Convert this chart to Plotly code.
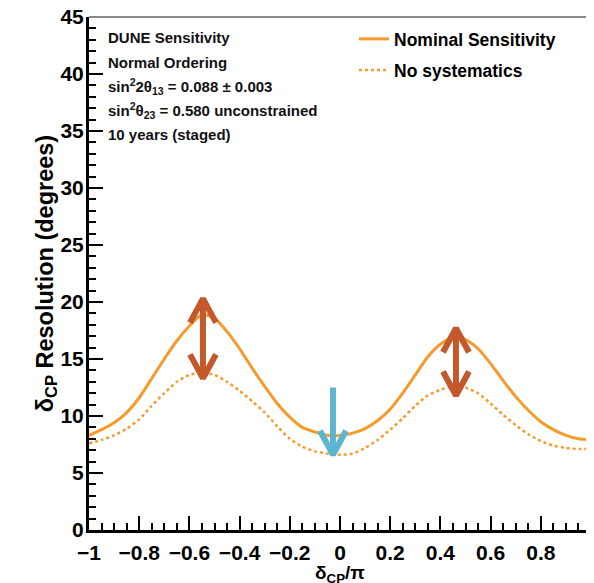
import plotly.graph_objects as go

# ---- data ----
delta_cp = [-1.00, -0.95, -0.90, -0.85, -0.80, -0.75, -0.70, -0.65, -0.60, -0.55,
            -0.50, -0.45, -0.40, -0.35, -0.30, -0.25, -0.20, -0.15, -0.10, -0.05,
            0.00, 0.05, 0.10, 0.15, 0.20, 0.25, 0.30, 0.35, 0.40, 0.45,
            0.50, 0.55, 0.60, 0.65, 0.70, 0.75, 0.80, 0.85, 0.90, 0.95, 1.00]
nominal = [8.3, 8.8, 9.4, 10.3, 11.6, 13.3, 15.0, 16.6, 17.9, 18.9,
           18.6, 17.4, 15.9, 14.2, 12.6, 11.1, 9.9, 9.0, 8.6, 8.3,
           8.3, 8.5, 8.9, 9.6, 10.6, 12.0, 13.6, 15.2, 16.3, 16.9,
           16.7, 15.9, 14.6, 13.1, 11.7, 10.5, 9.5, 8.8, 8.3, 8.0, 7.9]
no_syst = [7.6, 7.9, 8.3, 8.9, 9.7, 10.9, 12.0, 13.0, 13.6, 13.8,
           13.6, 13.0, 12.2, 11.3, 10.3, 9.1, 8.0, 7.3, 6.9, 6.7,
           6.6, 6.7, 7.2, 7.9, 8.8, 9.8, 10.9, 11.8, 12.3, 12.6,
           12.5, 12.0, 11.1, 10.1, 9.2, 8.4, 7.8, 7.4, 7.2, 7.1, 7.1]

# arrows (x position, top value, bottom value)
brown_x = [-0.546, 0.462]
brown_top = [20.3, 17.7]
brown_bottom = [13.3, 11.8]
blue_x = [-0.028]
blue_top = [12.5]
blue_bottom = [6.6]

x_ticks = [-1, -0.8, -0.6, -0.4, -0.2, 0, 0.2, 0.4, 0.6, 0.8, 1]
x_tick_labels = ["\u22121", "\u22120.8", "\u22120.6", "\u22120.4", "\u22120.2", "0",
                 "0.2", "0.4", "0.6", "0.8", "1"]
y_ticks = [0, 5, 10, 15, 20, 25, 30, 35, 40, 45]

info_lines = ["DUNE Sensitivity",
              "Normal Ordering",
              "sin<sup>2</sup>2\u03b8<sub>13</sub> = 0.088 \u00b1 0.003",
              "sin<sup>2</sup>\u03b8<sub>23</sub> = 0.580 unconstrained",
              "10 years (staged)"]

# ---- style ----
ORANGE = "#f79a2c"
BROWN = "#c3582b"
BLUE = "#5cb5d1"
FONT = "Liberation Sans"
OFF = 8                          # page body margin offset
W, H = 594 - OFF, 583 - OFF
ML, MR, MT, MB = 89 - OFF, 3, 17 - OFF, 53
PW, PH = W - ML - MR, H - MT - MB
px_x = PW / 2.0                  # pixels per x unit
px_y = PH / 45.0                 # pixels per y unit
HW = 13 / px_x                   # arrow head half width (data units)
HD = 24 / px_y                   # arrow head depth (data units)

fig = go.Figure()
fig.add_trace(go.Scatter(x=delta_cp, y=nominal, mode="lines", name="Nominal Sensitivity",
                         line=dict(color=ORANGE, width=3, shape="spline", smoothing=0.6),
                         legend="legend"))
fig.add_trace(go.Scatter(x=delta_cp, y=no_syst, mode="lines", name="No systematics",
                         line=dict(color=ORANGE, width=2.5, dash="dot", shape="spline",
                                   smoothing=0.6),
                         legend="legend2"))


def arrow_path(xc, top, bottom, up, down):
    xs, ys = [xc, xc], [top, bottom]
    if up:
        xs += [None, xc - HW, xc, xc + HW]
        ys += [None, top - HD, top, top - HD]
    if down:
        xs += [None, xc - HW, xc, xc + HW]
        ys += [None, bottom + HD, bottom, bottom + HD]
    return xs, ys


for xc, t, b in zip(brown_x, brown_top, brown_bottom):
    xs, ys = arrow_path(xc, t, b, True, True)
    fig.add_trace(go.Scatter(x=xs, y=ys, mode="lines", showlegend=False, hoverinfo="skip",
                             line=dict(color=BROWN, width=6)))
for xc, t, b in zip(blue_x, blue_top, blue_bottom):
    xs, ys = arrow_path(xc, t, b, False, True)
    fig.add_trace(go.Scatter(x=xs, y=ys, mode="lines", showlegend=False, hoverinfo="skip",
                             line=dict(color=BLUE, width=6)))


def py(page_y):
    return (H - MB - (page_y - OFF)) / PH


def pxp(page_x):
    return (page_x - OFF - ML) / PW


rows_y = [37, 62, 86, 110, 134]
annotations = []
for txt, ry in zip(info_lines, rows_y):
    annotations.append(dict(text=txt, xref="paper", yref="paper",
                            x=pxp(106), y=py(ry),
                            xanchor="left", yanchor="middle", showarrow=False,
                            font=dict(family=FONT, size=15, color="#111", weight="bold")))
# x-axis title
annotations.append(dict(text="\u03b4<sub>CP</sub>/\u03c0", xref="paper", yref="paper",
                        x=0.5, y=py(574), xanchor="center", yanchor="middle", showarrow=False,
                        font=dict(family=FONT, size=19, weight="bold")))

legend_font = dict(family=FONT, size=17.5, weight="bold")
fig.update_layout(
    width=W, height=H,
    margin=dict(l=ML, r=MR, t=MT, b=MB),
    paper_bgcolor="white", plot_bgcolor="white",
    font=dict(family=FONT, color="black"),
    annotations=annotations,
    legend=dict(x=pxp(354), y=py(39), xanchor="left", yanchor="middle",
                bgcolor="rgba(0,0,0,0)", font=legend_font),
    legend2=dict(x=pxp(354), y=py(70), xanchor="left", yanchor="middle",
                 bgcolor="rgba(0,0,0,0)", font=legend_font),
    shapes=[
        dict(type="line", xref="paper", yref="paper", x0=0, x1=1, y0=1, y1=1,
             line=dict(color="#8a8a8a", width=2)),
        dict(type="line", xref="paper", yref="paper", x0=1, x1=1, y0=0, y1=1,
             line=dict(color="#8a8a8a", width=2)),
    ],
)

fig.update_xaxes(
    range=[-1, 1], tickvals=x_ticks, ticktext=x_tick_labels, automargin=False,
    ticklabeloverflow="allow",
    showgrid=False, zeroline=False, showline=True, linecolor="black", linewidth=3,
    ticks="inside", ticklen=14, tickwidth=2, tickcolor="black",
    minor=dict(dtick=0.05, tick0=0, ticks="inside", ticklen=7, tickwidth=2, tickcolor="black"),
    tickfont=dict(family=FONT, size=21, weight="bold"), ticklabelstandoff=2,
)
fig.update_yaxes(
    range=[0, 45], tickvals=y_ticks, automargin=False,
    ticklabeloverflow="allow",
    showgrid=False, zeroline=False, showline=True, linecolor="black", linewidth=3,
    ticks="inside", ticklen=14, tickwidth=2, tickcolor="black",
    minor=dict(dtick=1, tick0=0, ticks="inside", ticklen=7, tickwidth=2, tickcolor="black"),
    tickfont=dict(family=FONT, size=21, weight="bold"), ticklabelstandoff=-2,
    title=dict(text="\u03b4<sub>CP</sub> Resolution (degrees)",
               font=dict(family=FONT, size=23.5, weight="bold"), standoff=0),
)

fig.write_html("out.html")
